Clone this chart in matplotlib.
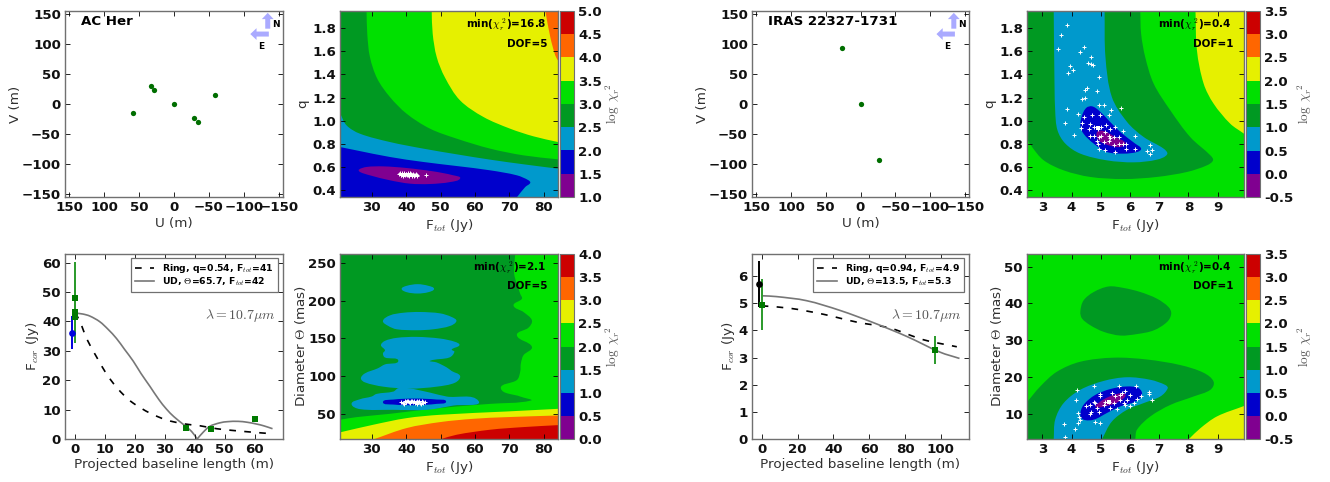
import numpy as np
import matplotlib
matplotlib.use('Agg')
import matplotlib.pyplot as plt
from matplotlib.colors import ListedColormap, BoundaryNorm
from matplotlib.colorbar import ColorbarBase
from matplotlib.lines import Line2D
from matplotlib.patches import PathPatch
from matplotlib.path import Path

# tick labels are all bold, axis labels ask for normal themselves
plt.rcParams['font.family'] = 'DejaVu Sans'
plt.rcParams['font.weight'] = 'bold'
plt.rcParams['mathtext.fontset'] = 'cm'

W, H = 1330, 482
AXCOL = '#707070'
LABCOL = '#303030'
BANDS = ['#800090', '#0000cc', '#0099cc', '#009922', '#00e000', '#e6f000', '#ff6600', '#cc0000']
PURPLE, BLUE, LBLUE, DGREEN, GREEN, YELLOW, ORANGE, RED = BANDS

# uv coverage
achar_u = [58, 33.2, 28, 0, -28.4, -34, -58.6]
achar_v = [-15, 30.5, 23.3, 0, -23.9, -30.5, 14.4]
iras_u = [26.4, 0, -26]
iras_v = [93, 0, -93]
uv_ticks = [150, 100, 50, 0, -50, -100, -150]

# correlated flux AC Her
achar_b = [0, 0, 0, 0, 37, 45.4, 60]
achar_f = [47.8, 43.3, 42.4, 41.4, 3.9, 3.3, 6.8]
achar_e = [12.5, 10.8, 1.5, 1.2, 0.3, 0.3, 0.4]
achar_tot_b = [-1]
achar_tot_f = [36.2]
achar_tot_e = [5.5]
achar_ring_x = [0, 1.6, 4, 7.1, 10, 12.7, 16, 19.4, 25, 30.5, 36, 41.7, 47.3, 52.8, 59.5, 65.7]
achar_ring_y = [43, 39.9, 33.8, 28, 22.9, 19, 15.2, 12.2, 8.8, 6.5, 5.2, 4.5, 3.5, 2.9, 2.3, 1.8]
achar_ud_x = [0, 2.5, 4.9, 8.2, 11, 13.8, 16.5, 19.4, 22, 25, 28, 30.5, 33, 36, 38.9, 40.8,
              42.8, 45, 48.4, 51, 54.5, 57.5, 60.6, 63, 66]
achar_ud_y = [42.8, 42.5, 41.8, 39.9, 37.3, 34.2, 30.5, 26.5, 22.3, 17.9, 13.4, 10.2, 7.6, 5.1, 2.6, 0,
              2.3, 4.3, 5.5, 5.9, 6.0, 5.7, 5.1, 4.5, 3.5]

# correlated flux IRAS
iras_b = [0, 96.5]
iras_f = [4.95, 3.28]
iras_e = [0.93, 0.5]
iras_tot_b = [-1.5]
iras_tot_f = [5.7]
iras_tot_e = [0.85]
iras_ring_x = [0, 15.7, 34.3, 53, 71.6, 90.2, 108.9]
iras_ring_y = [4.91, 4.82, 4.6, 4.31, 4.09, 3.66, 3.40]
iras_ud_x = [0, 8.2, 25, 43.7, 62.3, 81, 99.6, 110.4]
iras_ud_y = [5.28, 5.25, 5.1, 4.74, 4.29, 3.78, 3.2, 2.97]

# AC Her, q map, band outlines (F_tot, q)
b_lim = (20.7, 84.2, 0.343, 1.947)
b_dg_x = [28.44, 28.64, 29.42, 31.56, 35.25, 40.12, 46.93, 54.71, 64.44, 74.16, 84.2, 84.2, 20.7, 20.7]
b_dg_y = [1.95, 1.751, 1.55, 1.363, 1.205, 1.061, 0.932, 0.846, 0.76, 0.702, 0.668, 0.34, 0.34, 1.95]
b_yl_x = [47.41, 47.7, 48.87, 51.3, 55.68, 62.49, 70.27, 77.08, 84.2, 84.2]
b_yl_y = [1.95, 1.751, 1.55, 1.372, 1.176, 1.033, 0.932, 0.866, 0.817, 1.95]
b_or_x = [80.49, 81.95, 83.4, 84.2, 84.2]
b_or_y = [1.95, 1.722, 1.564, 1.52, 1.95]
b_lb_x = [20.7, 22.6, 26.5, 35.25, 44.98, 54.71, 64.44, 74.16, 84.2, 84.2, 20.7]
b_lb_y = [1.067, 0.961, 0.889, 0.817, 0.76, 0.711, 0.665, 0.625, 0.587, 0.34, 0.34]
b_bl_x = [20.7, 25.5, 35.25, 44.98, 54.71, 64.44, 72.22, 75.62, 76.11, 74.65, 72.22, 20.7]
b_bl_y = [0.774, 0.745, 0.688, 0.645, 0.61, 0.573, 0.53, 0.487, 0.464, 0.429, 0.34, 0.34]
b_pu_x = [26.2, 28.44, 33.3, 40.1, 47.9, 53.7, 55.7, 52.8, 46.9, 41.1, 35.25, 29.4, 26.5]
b_pu_y = [0.579, 0.602, 0.607, 0.593, 0.564, 0.53, 0.504, 0.472, 0.455, 0.458, 0.487, 0.53, 0.559]
b_pts_x = [38, 38.4, 38.8, 39.2, 39.6, 40, 40.4, 40.8, 41.2, 41.6, 42, 42.4, 42.8, 43.2,
           38.6, 39.4, 40.2, 41, 41.8, 42.6, 45.7, 38.2, 39, 39.8, 40.6, 41.4, 42.2, 43, 39.3, 40.7]
b_pts_y = [.545, .535, .55, .54, .53, .545, .535, .525, .55, .53, .54, .525, .545, .53,
           .53, .55, .53, .54, .52, .535, .53, .55, .525, .54, .55, .54, .53, .52, .54, .535]

# AC Her, diameter map (F_tot, diameter)
d_lim = (20.7, 84.2, 16.6, 261.9)
d_dg_x = [71.73, 71.44, 73.19, 73.68, 71.25, 74.16, 76.6, 75.62, 72.22, 76.6, 74.16, 73.38, 73.19,
          72.22, 67.55, 73.19, 76.3, 64.44, 54.71, 44.98, 35.25, 25.53, 20.7, 20.7]
d_dg_y = [262, 235.5, 209.1, 202.5, 193.7, 184.9, 174, 164.3, 154.2, 138.8, 127.8, 116.8, 105.8,
          94.8, 83.8, 72.9, 67.6, 63.2, 59.7, 55.3, 50, 45.6, 42.1, 262]
d_yl_x = [20.7, 30.39, 40.12, 49.84, 69.3, 84.2, 84.2, 20.7]
d_yl_y = [25.4, 35.5, 44.3, 48.7, 53.1, 56.6, 16, 16]
d_or_x = [30.39, 40.12, 49.84, 59.57, 69.3, 84.2, 84.2]
d_or_y = [16, 31.1, 39, 43.4, 45.6, 47.8, 16]
d_rd_x = [49.84, 54.71, 64.44, 74.16, 84.2, 84.2]
d_rd_y = [16, 22.3, 28.9, 32.4, 35, 16]
d_lb1_x = [38.66, 40.12, 43.33, 46.44, 48.09, 46.44, 43.33, 40.12]
d_lb1_y = [215.7, 219.7, 221.9, 219.7, 215.7, 211.3, 209.5, 211.3]
d_lb2_x = [33.21, 35.25, 39.14, 44.01, 49.84, 53.25, 54.61, 52.76, 47.9, 43.03, 37.2, 34.77]
d_lb2_y = [173.1, 180.5, 184, 185, 183.2, 178.3, 173.1, 166.5, 162.1, 160.8, 162.1, 166.5]
d_lb3_x = [32.63, 33.79, 37.2, 43.03, 49.84, 54.22, 55.49, 53.25, 54.03, 52.57, 46.93, 48.87, 51.79,
           53.25, 55.68, 54.22, 48.87, 41.09, 33.31, 27.96, 26.79, 27.96, 31.65, 33.79, 37.68, 33.79,
           33.21, 33.79]
d_lb3_y = [141, 146.7, 150.7, 152, 149.8, 145.4, 141, 135.3, 132.2, 124.7, 120.3, 118.1, 111.5,
           106.7, 100.1, 91.3, 86, 83.4, 86, 91.7, 97, 103.6, 110.2, 115.5, 120.3, 124.7, 130, 134.4]
d_lb4_x = [24.07, 26.5, 29.9, 31.36, 36.23, 37.68, 40.6, 46.93, 51.79, 61.03, 53.74, 45.95, 36.23, 26.5]
d_lb4_y = [63.2, 69.3, 72.9, 76.4, 79.5, 84, 84, 78.1, 72.9, 67.1, 61, 55.3, 55.3, 56.2]
d_bl_x = [33.21, 36.23, 42.55, 48.87, 51.6, 48.87, 42.55, 36.23]
d_bl_y = [65.4, 68.9, 70.2, 68.9, 66.2, 63.2, 61.4, 62.3]
d_pts_x = [38.5, 39, 39.5, 40, 40.5, 41, 41.5, 42, 42.5, 43, 43.5, 44, 44.5, 45, 45.5, 39.2, 40.2,
           41.2, 42.2, 43.2, 44.2, 39.8, 40.8, 41.8, 42.8, 43.8, 44.8]
d_pts_y = [66, 64.5, 67, 65, 66.5, 64, 67, 65.5, 64, 67, 65.5, 64.5, 67, 65.5, 66, 63.5, 67.5,
           65.5, 67.5, 63.5, 63.5, 65.5, 65, 66.5, 65, 66.5, 64.5]

# IRAS, q map
f_lim = (2.476, 9.9, 0.343, 1.947)
f_yl_x = [8.24, 8.29, 8.52, 8.86, 9.43, 9.9, 9.9]
f_yl_y = [1.95, 1.607, 1.32, 1.148, 0.975, 0.889, 1.95]
f_dg_x = [6.35, 6.38, 6.52, 6.81, 7.38, 8.06, 8.75, 8.84, 8.63, 7.95, 6.92, 5.78, 4.64, 3.73, 3.05, 2.65, 2.45, 2.45]
f_dg_y = [1.95, 1.751, 1.55, 1.32, 1.09, 0.86, 0.702, 0.659, 0.616, 0.559, 0.516, 0.498, 0.516, 0.573,
          0.659, 0.774, 0.86, 1.95]
f_lb_x = [3.39, 3.41, 3.44, 3.52, 3.79, 4.3, 5.21, 6.13, 6.92, 7.27, 7.15, 6.47, 5.9, 5.38, 5.16, 5.13]
f_lb_y = [1.95, 1.464, 1.09, 0.918, 0.803, 0.717, 0.659, 0.642, 0.665, 0.711, 0.76, 0.86, 0.99, 1.205, 1.55, 1.95]
f_bl_x = [4.3, 4.36, 4.51, 4.7, 4.93, 5.27, 5.67, 6.18, 6.38, 6.24, 5.78, 5.21, 4.76, 4.41]
f_bl_y = [0.961, 1.047, 1.113, 1.125, 1.09, 1.004, 0.903, 0.803, 0.76, 0.731, 0.717, 0.731, 0.803, 0.889]
f_pu_x = [4.87, 5.1, 5.5, 5.84, 5.67, 5.27, 4.93]
f_pu_y = [0.903, 0.912, 0.86, 0.809, 0.774, 0.789, 0.832]
f_pts_x = [3.83, 3.63, 3.52, 4.44, 4.29, 4.67, 4.56, 4.65, 4.75, 3.94, 4.05, 3.87, 4.93, 4.86, 4.53, 4.47,
           4.36, 4.47, 4.93, 5.12, 5.34, 5.28, 5.68, 3.86, 4.22, 4.41, 3.79, 4.09, 4.70, 4.98, 4.35, 4.32,
           4.64, 4.59, 4.76, 4.89, 5.01, 5.17, 5.33, 5.50, 5.75, 6.16, 6.18, 6.67, 6.76, 6.57, 6.67, 4.76,
           4.93, 4.87, 5.01, 5.16, 5.27, 5.33, 5.46, 5.61, 5.10, 5.27, 5.44, 5.61, 5.76, 5.86, 4.93, 5.16,
           5.50, 5.86, 4.89, 4.64]
f_pts_y = [1.83, 1.74, 1.62, 1.64, 1.59, 1.55, 1.50, 1.49, 1.48, 1.47, 1.44, 1.41, 1.38, 1.26, 1.28, 1.27,
           1.19, 1.20, 1.14, 1.14, 1.09, 1.05, 1.11, 1.10, 1.06, 1.03, 0.98, 0.88, 1.05, 1.05, 0.98, 0.94,
           0.97, 0.93, 0.95, 0.93, 0.95, 0.96, 0.93, 0.95, 0.91, 0.87, 0.76, 0.79, 0.75, 0.74, 0.71, 0.87,
           0.86, 0.83, 0.87, 0.90, 0.87, 0.85, 0.86, 0.86, 0.82, 0.83, 0.79, 0.80, 0.80, 0.80, 0.76, 0.75,
           0.73, 0.76, 0.80, 0.87]
f_best = (4.9, 0.94)

# IRAS, diameter map
h_lim = (2.476, 9.9, 3.26, 53.4)
h_yl_x = [8.01, 8.41, 8.98, 9.9, 9.9]
h_yl_y = [3.2, 6.2, 9.4, 12.2, 3.2]
h_dg1_x = [4.3, 4.41, 4.76, 5.27, 5.78, 6.35, 6.92, 7.32, 7.41, 7.27, 6.81, 6.24, 5.67, 5.1, 4.64, 4.36]
h_dg1_y = [37.7, 40.8, 43.1, 44.6, 44.2, 43.1, 41.3, 39, 37.2, 35, 32.7, 31.7, 31.3, 32.3, 34.1, 35.9]
h_dg2_x = [2.45, 2.93, 3.5, 4.3, 5.44, 6.58, 7.72, 8.52, 8.86, 8.75, 8.18, 7.38, 6.7, 6.24, 6.18, 2.45]
h_dg2_y = [13, 17.5, 21.5, 24.2, 25.3, 24.8, 23.3, 21.2, 18.8, 16.6, 14.8, 12.5, 9.4, 5.8, 3.2, 3.2]
h_lb_x = [3.39, 3.44, 3.73, 4.3, 5.1, 5.9, 6.7, 7.21, 7.29, 7.04, 6.47, 5.9, 5.38, 5.04]
h_lb_y = [3.2, 8.5, 13, 16.6, 19, 20, 19.3, 17.9, 17, 14.8, 13, 11.2, 8, 3.2]
h_bl_x = [4.3, 4.41, 4.81, 5.33, 5.9, 6.3, 6.41, 6.18, 5.67, 5.21, 4.76, 4.41]
h_bl_y = [9.8, 12.5, 15.2, 16.8, 17.5, 17, 15.2, 13.4, 12.1, 10.3, 8.5, 8.5]
h_pu_x = [4.81, 5.1, 5.44, 5.78, 5.84, 5.55, 5.16, 4.87]
h_pu_y = [12.2, 14, 15.2, 15.7, 14.8, 13.1, 12.1, 11.8]
h_pts_x = [4.19, 4.76, 5.61, 6.22, 6.66, 6.64, 6.75, 4.16, 4.21, 4.24, 4.28, 3.75, 4.11, 4.21, 4.81, 4.98,
           3.79, 4.67, 4.49, 4.64, 4.76, 4.98, 4.98, 5.38, 5.73, 5.84, 6.01, 6.39, 6.24, 6.13, 6.01, 5.78,
           5.67, 5.5, 5.27, 5.1, 4.87, 4.64, 4.93, 5.33, 5.56, 5.9, 5.44, 5.67, 5.16, 5.84, 4.81]
h_pts_y = [16.6, 17.6, 17.6, 17.7, 16.1, 15.4, 13.7, 13.7, 10.3, 9.1, 8.5, 7.4, 6.0, 7.6, 8.0, 7.6,
           3.7, 10.7, 12.1, 12.5, 13.4, 15.5, 14.8, 15.7, 15.7, 16.4, 15.2, 14.8, 14.0, 13.0, 12.1, 13.0,
           13.9, 14.8, 13.4, 12.5, 11.6, 10, 10.7, 11.6, 11.3, 13.9, 13, 15.2, 13.4, 12.5, 13]
h_best = (5.27, 13.4)


def smooth_path(xs, ys, lim, closed=True):
    # bezier through the read points, points on the frame stay sharp
    p = np.column_stack([xs, ys]).astype(float)
    scale = np.array([lim[1] - lim[0], lim[3] - lim[2]])
    n = len(p)
    on_edge = (p[:, 0] <= lim[0]) | (p[:, 0] >= lim[1]) | (p[:, 1] <= lim[2]) | (p[:, 1] >= lim[3])
    if not closed:
        on_edge[0] = on_edge[-1] = True

    def handle(i, j):
        # control point next to point i, on the way to point j
        seg = p[j] - p[i]
        if on_edge[i]:
            return p[i] + seg / 3
        t = (p[(i + 1) % n] - p[i - 1]) / scale
        t = t / np.hypot(t[0], t[1]) * scale
        size = np.hypot(*(seg / scale)) / 3
        sign = 1 if j == (i + 1) % n else -1
        return p[i] + sign * t * size

    verts = [p[0]]
    codes = [Path.MOVETO]
    for i in range(n if closed else n - 1):
        j = (i + 1) % n
        verts += [handle(i, j), handle(j, i), p[j]]
        codes += [Path.CURVE4] * 3
    return Path(verts, codes)


def make_axes(x0, y0, x1, y1):
    ax = plt.gcf().add_axes([x0 / W, 1 - y1 / H, (x1 - x0) / W, (y1 - y0) / H])
    for s in ax.spines.values():
        s.set_color(AXCOL)
        s.set_linewidth(1.0)
    ax.tick_params(direction='in', top=True, right=True, length=3.5, width=0.6, pad=3, labelsize=9.6,
                   labelcolor='#111111')
    return ax


def labels(ax, xlab, ylab, xpad, ypad):
    ax.set_xlabel(xlab, fontsize=9.7, color=LABCOL, labelpad=xpad, fontweight='normal')
    ax.set_ylabel(ylab, fontsize=9.7, color=LABCOL, labelpad=ypad, fontweight='normal')


def arrows(ax):
    style = dict(facecolor='#aaaaff', edgecolor='none', width=3.6, headwidth=8.5, headlength=4.5, shrink=0)
    ax.annotate('', xy=(0.93, 0.99), xytext=(0.93, 0.905), xycoords='axes fraction', arrowprops=style)
    ax.annotate('', xy=(0.85, 0.876), xytext=(0.935, 0.876), xycoords='axes fraction', arrowprops=style)
    ax.text(0.966, 0.925, 'N', transform=ax.transAxes, fontsize=6.5, ha='center', va='center')
    ax.text(0.9, 0.808, 'E', transform=ax.transAxes, fontsize=6.5, ha='center', va='center')


def uv_panel(x0, x1, u, v, name):
    ax = make_axes(x0, 11, x1, 197)
    ax.plot(u, v, 'o', color='#006e00', ms=3.8, mew=0)
    ax.set_xlim(156, -156)
    ax.set_ylim(-155, 155)
    ax.set_xticks(uv_ticks)
    ax.set_yticks(uv_ticks)
    labels(ax, 'U (m)', 'V (m)', 2, 0)
    ax.text(0.075, 0.946, name, transform=ax.transAxes, fontsize=9.6, va='center')
    arrows(ax)
    return ax


def flux_panel(x0, x1, lims, xt, yt, sq, tot, tot_col, ring, ud, leg):
    ax = make_axes(x0, 254, x1, 439)
    ax.set_xlim(lims[0], lims[1])
    ax.set_ylim(lims[2], lims[3])
    ring_style = dict(color='k', ls=(0, (4, 5)), lw=1.2)
    ud_style = dict(color='#777777', lw=1.2)
    ax.add_patch(PathPatch(smooth_path(ring[0], ring[1], lims, closed=False), fill=False, **ring_style))
    ax.add_patch(PathPatch(smooth_path(ud[0], ud[1], lims, closed=False), fill=False, **ud_style))
    ax.errorbar(sq[0], sq[1], yerr=sq[2], fmt='s', color='#007a00', ecolor='#2a9a2a', ms=5, mew=0,
                elinewidth=1.4, capsize=2.5)
    ax.errorbar(tot[0], tot[1], yerr=tot[2], fmt='o', color=tot_col, ms=4.8, mew=0,
                elinewidth=1.4, capsize=2.5)
    ax.set_xticks(xt)
    ax.set_yticks(yt)
    labels(ax, 'Projected baseline length (m)', 'F$_{cor}$ (Jy)', 1, 1)
    handles = [Line2D([], [], **ring_style), Line2D([], [], **ud_style)]
    lg = ax.legend(handles, leg, loc='upper right', bbox_to_anchor=(0.975, 0.978), borderaxespad=0,
                   prop=dict(size=6.7, weight='bold'), handlelength=2.1, fancybox=False,
                   framealpha=1, labelspacing=0.1, handletextpad=0.9, borderpad=0.4)
    lg.get_frame().set_edgecolor(AXCOL)
    lg.get_frame().set_linewidth(0.9)
    ax.text(0.965, 0.67, r'$\lambda=10.7\mu m$', transform=ax.transAxes, ha='right', va='center',
            fontsize=10, color='#555555')
    return ax


def map_panel(x0, y0, x1, y1, cx0, cx1, lim, polys, pts, best, xt, yt, ylab, ypad, levels, chi, dof):
    ax = make_axes(x0, y0, x1, y1)
    ax.set_facecolor(GREEN)
    ax.set_xlim(lim[0], lim[1])
    ax.set_ylim(lim[2], lim[3])
    for col, xs, ys in polys:
        ax.add_patch(PathPatch(smooth_path(xs, ys, lim), facecolor=col, edgecolor='none', lw=0))
    ax.plot(pts[0], pts[1], '+', color='white', ms=2.6, mew=0.7)
    if best is not None:
        ax.plot([best[0]], [best[1]], 's', color='white', ms=3, mew=0)
    ax.set_xticks(xt)
    ax.set_yticks(yt)
    labels(ax, 'F$_{tot}$ (Jy)', ylab, 2, ypad)
    ax.text(0.945, 0.925, r'min($\chi_r^{\ 2}$)=' + chi, transform=ax.transAxes, ha='right', va='center',
            fontsize=7.5)
    ax.text(0.95, 0.825, 'DOF=' + dof, transform=ax.transAxes, ha='right', va='center', fontsize=7.5)

    cax = plt.gcf().add_axes([cx0 / W, 1 - y1 / H, (cx1 - cx0) / W, (y1 - y0) / H])
    cb = ColorbarBase(cax, cmap=ListedColormap(BANDS), norm=BoundaryNorm(levels, 8), ticks=levels,
                      spacing='proportional', format='%.1f')
    cb.outline.set_edgecolor(AXCOL)
    cb.ax.tick_params(length=0, pad=3, labelsize=9.6, labelcolor='#111111')
    cb.set_label(r'$\log\ \chi_r^{\ 2}$', fontsize=9.5, color='#555555', labelpad=1, fontweight='normal')
    return ax


fig = plt.figure(figsize=(W / 100, H / 100), dpi=100, facecolor='white')

uv_panel(65, 283, achar_u, achar_v, 'AC Her')
uv_panel(752, 969, iras_u, iras_v, 'IRAS 22327-1731')

flux_panel(65, 283, (-3.4, 69.5, 0, 62.9), range(0, 70, 10), range(0, 70, 10),
           (achar_b, achar_f, achar_e), (achar_tot_b, achar_tot_f, achar_tot_e), '#0000dd',
           (achar_ring_x, achar_ring_y), (achar_ud_x, achar_ud_y),
           ['Ring, q=0.54, F$_{tot}$=41', r'UD, $\Theta$=65.7, F$_{tot}$=42'])
flux_panel(752, 969, (-5.4, 115.7, 0, 6.82), range(0, 120, 20), range(0, 7),
           (iras_b, iras_f, iras_e), (iras_tot_b, iras_tot_f, iras_tot_e), 'k',
           (iras_ring_x, iras_ring_y), (iras_ud_x, iras_ud_y),
           ['Ring, q=0.94, F$_{tot}$=4.9', r'UD, $\Theta$=13.5, F$_{tot}$=5.3'])

map_panel(340, 11, 558, 197, 560, 574, b_lim,
          [(DGREEN, b_dg_x, b_dg_y), (YELLOW, b_yl_x, b_yl_y), (ORANGE, b_or_x, b_or_y),
           (LBLUE, b_lb_x, b_lb_y), (BLUE, b_bl_x, b_bl_y), (PURPLE, b_pu_x, b_pu_y)],
          (b_pts_x, b_pts_y), None, range(30, 90, 10), np.arange(0.4, 1.9, 0.2), 'q', 2,
          np.arange(1.0, 5.01, 0.5), '16.8', '5')

map_panel(340, 254, 558, 439, 560, 574, d_lim,
          [(DGREEN, d_dg_x, d_dg_y), (YELLOW, d_yl_x, d_yl_y), (ORANGE, d_or_x, d_or_y),
           (RED, d_rd_x, d_rd_y), (LBLUE, d_lb1_x, d_lb1_y), (LBLUE, d_lb2_x, d_lb2_y),
           (LBLUE, d_lb3_x, d_lb3_y), (LBLUE, d_lb4_x, d_lb4_y), (BLUE, d_bl_x, d_bl_y)],
          (d_pts_x, d_pts_y), None, range(30, 90, 10), range(50, 300, 50), r'Diameter $\Theta$ (mas)', 0,
          np.arange(0.0, 4.01, 0.5), '2.1', '5')

map_panel(1027, 11, 1244, 197, 1246, 1260, f_lim,
          [(YELLOW, f_yl_x, f_yl_y), (DGREEN, f_dg_x, f_dg_y), (LBLUE, f_lb_x, f_lb_y),
           (BLUE, f_bl_x, f_bl_y), (PURPLE, f_pu_x, f_pu_y)],
          (f_pts_x, f_pts_y), f_best, range(3, 10), np.arange(0.4, 1.9, 0.2), 'q', 2,
          np.arange(-0.5, 3.51, 0.5), '0.4', '1')

map_panel(1027, 254, 1244, 439, 1246, 1260, h_lim,
          [(YELLOW, h_yl_x, h_yl_y), (DGREEN, h_dg1_x, h_dg1_y), (DGREEN, h_dg2_x, h_dg2_y),
           (LBLUE, h_lb_x, h_lb_y), (BLUE, h_bl_x, h_bl_y), (PURPLE, h_pu_x, h_pu_y)],
          (h_pts_x, h_pts_y), h_best, range(3, 10), range(10, 60, 10), r'Diameter $\Theta$ (mas)', 0,
          np.arange(-0.5, 3.51, 0.5), '0.4', '1')

fig.savefig('out.png', dpi=100, facecolor='white')
